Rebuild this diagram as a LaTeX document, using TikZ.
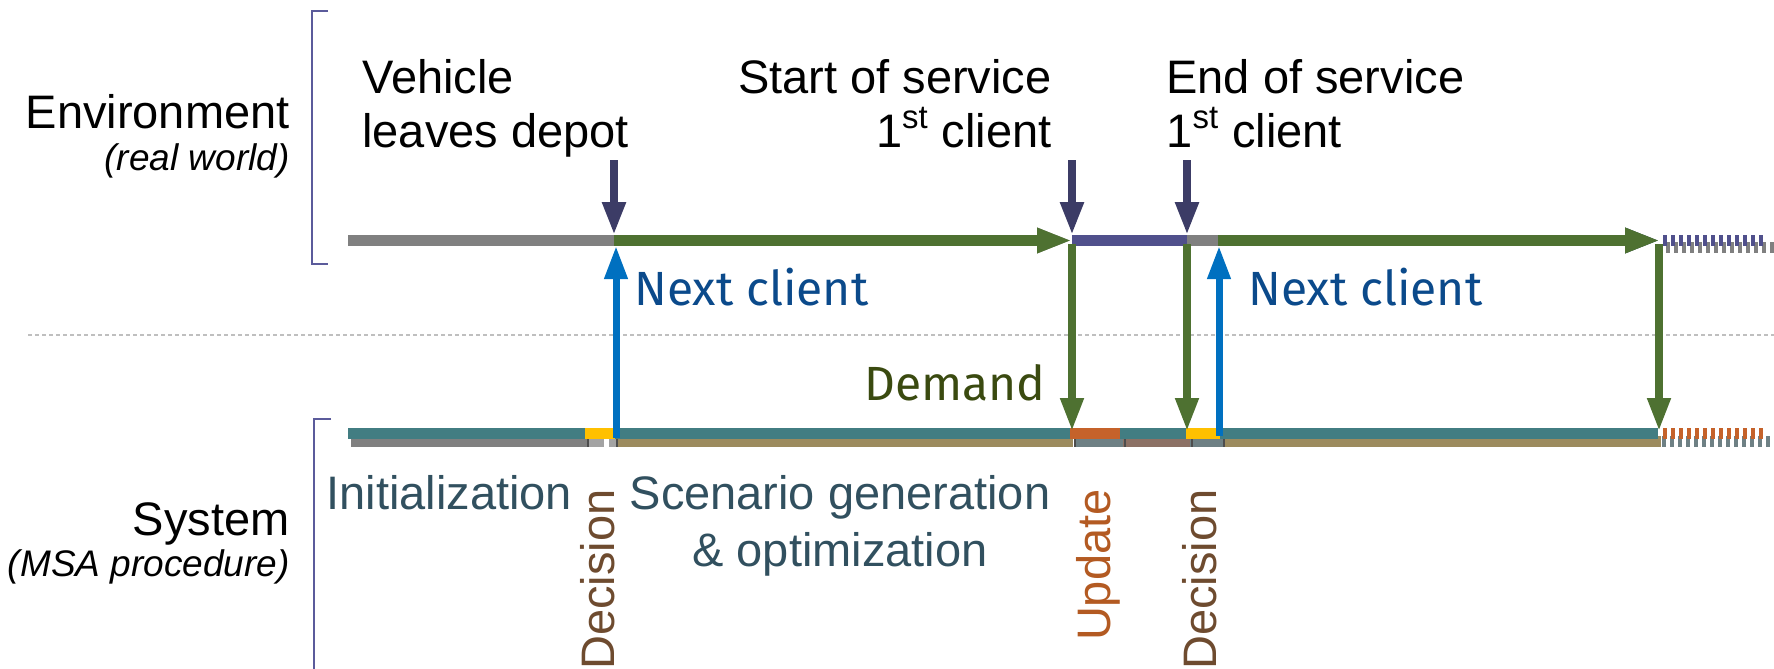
\documentclass[tikz,border=0pt]{standalone}
\usepackage{fontspec}
\setmainfont{Liberation Sans}
\newfontfamily\ubfont{Fira Sans}
\usetikzlibrary{arrows.meta}
\definecolor{cNavy}{HTML}{3C3C66}
\definecolor{cGreen}{HTML}{4E7131}
\definecolor{cPurple}{HTML}{50508C}
\definecolor{cBarGray}{HTML}{808080}
\definecolor{cShGray}{HTML}{A3A3A3}
\definecolor{cShDark}{HTML}{6E6E80}
\definecolor{cShTeal}{HTML}{264B55}
\definecolor{cTeal}{HTML}{427D82}
\definecolor{cYellow}{HTML}{FFC000}
\definecolor{cOrange}{HTML}{C5622A}
\definecolor{cBlue}{HTML}{0070C0}
\definecolor{cTan}{HTML}{9C8B5E}
\definecolor{cSlate}{HTML}{6E8084}
\definecolor{cBrownGray}{HTML}{8C7165}
\definecolor{cSep}{HTML}{4D4D4D}
\definecolor{cTxtBlue}{HTML}{0B4A8B}
\definecolor{cTxtOlive}{HTML}{3A4A10}
\definecolor{cTxtSlate}{HTML}{31505F}
\definecolor{cTxtBrown}{HTML}{6E4B2F}
\definecolor{cTxtOrange}{HTML}{B35A22}
\definecolor{cBracket}{HTML}{5B5B9B}
\definecolor{cDash}{HTML}{BFBFBF}
\tikzset{
  mainlbl/.style={font=\fontsize{23.5pt}{27pt}\selectfont, inner sep=0pt, text=black},
  sublbl/.style={font=\fontsize{18.5pt}{22pt}\selectfont\itshape, inner sep=0pt, text=black},
  nextlbl/.style={font=\ubfont\fontsize{24pt}{28pt}\selectfont, inner sep=0pt, text=cTxtBlue},
  demlbl/.style={font=\ubfont\fontsize{24pt}{28pt}\selectfont, inner sep=0pt, text=cTxtOlive},
  phaselbl/.style={font=\fontsize{23.5pt}{27pt}\selectfont, inner sep=0pt, text=cTxtSlate},
  declbl/.style={font=\fontsize{23.5pt}{27pt}\selectfont, inner sep=0pt, text=cTxtBrown, rotate=90, anchor=base east},
  updlbl/.style={font=\fontsize{23.5pt}{27pt}\selectfont, inner sep=0pt, text=cTxtOrange, rotate=90, anchor=base east},
  hbar/.style={line width=5.5pt},
  harrow/.style={line width=5.5pt, -{Triangle[length=17.5pt,width=11.5pt]}},
  varrow/.style={line width=3.75pt, -{Triangle[length=16.5pt,width=11pt]}},
  dashbar/.style={line width=5.5pt, dash pattern=on 2pt off 2pt},
  bracket/.style={draw=cBracket, line width=0.8pt},
}
\begin{document}
\begin{tikzpicture}[x=0.5pt, y=-0.5pt]
\useasboundingbox (0,0) rectangle (1774,669);

% named coordinates (timeline events)
\coordinate (s0) at (348,240.5);
\coordinate (a) at (614,240.5);
\coordinate (b) at (1072,240.5);
\coordinate (c) at (1187,240.5);
\coordinate (d) at (1218,240.5);
\coordinate (e) at (1660,240.5);
\coordinate (eEnd) at (1765,240.5);
\coordinate (aIn) at (614,160);
\coordinate (aTop) at (614,235);
\coordinate (bIn) at (1072,160);
\coordinate (bTop) at (1072,235);
\coordinate (cIn) at (1187,160);
\coordinate (cTop) at (1187,235);
\coordinate (bDn0) at (1072,244);
\coordinate (bDn1) at (1072,431);
\coordinate (cDn0) at (1187,244);
\coordinate (cDn1) at (1187,431);
\coordinate (eDn0) at (1659,244);
\coordinate (eDn1) at (1659,431);
\coordinate (aUp0) at (616,438);
\coordinate (aUp1) at (616,246);
\coordinate (dUp0) at (1219,436);
\coordinate (dUp1) at (1219,246);

% brackets and separator
\draw[bracket] (328,11) -- (312,11) -- (312,264) -- (328,264);
\draw[bracket] (331,419) -- (314,419) -- (314,669);
\draw[cDash, line width=0.6pt, dash pattern=on 2pt off 1.5pt] (28,335) -- (1774,335);

% ---- top timeline: shadow
\begin{scope}[shift={(4,7)}]
  \draw[hbar, cShGray] (s0) -- (a);
  \draw[harrow, cShGray] (a) -- (b);
  \draw[hbar, cShGray] (b) -- (c);
  \draw[hbar, cShDark] (c) -- (d);
  \draw[harrow, cShTeal] (d) -- (e);
  \draw[dashbar, cBarGray] (1662,240.5) -- (1770,240.5);
\end{scope}
% ---- top timeline
\draw[hbar, cBarGray] (s0) -- (a);
\draw[harrow, cGreen] (a) -- (b);
\draw[hbar, cPurple] (b) -- (c);
\draw[hbar, cBarGray] (c) -- (d);
\draw[harrow, cGreen] (d) -- (e);
\draw[dashbar, cPurple] (1663,240.5) -- (eEnd);

% ---- bottom timeline: shadow
\draw[hbar, cBarGray] (351,441) -- (588,441);
\draw[hbar, cShGray] (588,441) -- (604,441);
\draw[hbar, cShGray] (609,441) -- (617,441);
\draw[hbar, cTan] (618,441) -- (1073,441);
\draw[hbar, cSlate] (1074,441) -- (1123,441);
\draw[hbar, cBrownGray] (1123,441) -- (1190,441);
\draw[hbar, cSlate] (1190,441) -- (1223,441);
\draw[hbar, cTan] (1223,441) -- (1661,441);
\draw[dashbar, cSlate] (1662,441) -- (1770,441);
\foreach \sx in {588,617,1075,1125,1192,1224}
  \draw[cSep, line width=0.7pt] (\sx,439) -- (\sx,446.5);
% ---- bottom timeline
\draw[hbar, cTeal] (348,433.5) -- (1658,433.5);
\draw[hbar, cYellow] (585,433.5) -- (615,433.5);
\draw[hbar, cOrange] (1070,433.5) -- (1120,433.5);
\draw[hbar, cYellow] (1186,433.5) -- (1220,433.5);
\draw[dashbar, cOrange] (1663,433.5) -- (1765,433.5);

% ---- event arrows
\draw[line width=4pt, cNavy, -{Triangle[length=16.5pt,width=11pt]}] (aIn) -- (aTop);
\draw[line width=4pt, cNavy, -{Triangle[length=16.5pt,width=11pt]}] (bIn) -- (bTop);
\draw[line width=4pt, cNavy, -{Triangle[length=16.5pt,width=11pt]}] (cIn) -- (cTop);
\draw[varrow, cGreen] (bDn0) -- (bDn1);
\draw[varrow, cGreen] (cDn0) -- (cDn1);
\draw[varrow, cGreen] (eDn0) -- (eDn1);
\draw[varrow, cBlue, line width=3.5pt] (aUp0) -- (aUp1);
\draw[varrow, cBlue, line width=3.5pt] (dUp0) -- (dUp1);

% ---- labels
\node[mainlbl, anchor=base east] (env) at (290,128) {Environment};
\node[sublbl, anchor=base east] (envsub) at (290,170) {(real world)};
\node[mainlbl, anchor=base east] (sys) at (290,535) {System};
\node[sublbl, anchor=base east] (syssub) at (290,576) {(MSA procedure)};

\node[mainlbl, anchor=base west] (veh1) at (362,93) {Vehicle};
\node[mainlbl, anchor=base west] (veh2) at (362,147) {leaves depot};
\node[mainlbl, anchor=base east] (st1) at (1052,93) {Start of service};
\node[mainlbl, anchor=base east] (st2) at (1052,147) {1\textsuperscript{st} client};
\node[mainlbl, anchor=base west] (en1) at (1166,93) {End of service};
\node[mainlbl, anchor=base west] (en2) at (1166,147) {1\textsuperscript{st} client};

\node[nextlbl, anchor=base west] (nc1) at (634,305) {Next client};
\node[nextlbl, anchor=base west] (nc2) at (1248,305) {Next client};
\node[demlbl, anchor=base east] (dem) at (1046,400) {Demand};

\node[phaselbl, anchor=base west] (init) at (326,509) {Initialization};
\node[phaselbl, anchor=base] (sc1) at (840,509) {Scenario generation};
\node[phaselbl, anchor=base] (sc2) at (840,566) {\& optimization};

\node[declbl] (dec1) at (614,489) {Decision};
\node[updlbl] (upd) at (1110,489) {Update};
\node[declbl] (dec2) at (1216,489) {Decision};
\end{tikzpicture}
\end{document}
